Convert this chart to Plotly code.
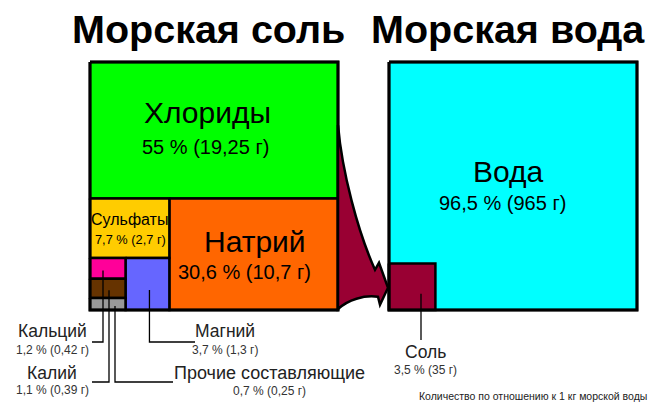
import math
import plotly.graph_objects as go

# ---------------- data ----------------
salt_parts = ["Хлориды", "Натрий", "Сульфаты", "Магний", "Кальций", "Калий", "Прочие составляющие"]
salt_percent = [55, 30.6, 7.7, 3.7, 1.2, 1.1, 0.7]
salt_grams = ["19,25", "10,7", "2,7", "1,3", "0,42", "0,39", "0,25"]
salt_colors = ["#00ff00", "#ff6600", "#ffcc00", "#6666ff", "#ff0099", "#663300", "#999999"]

water_parts = ["Вода", "Соль"]
water_percent = [96.5, 3.5]
water_grams = ["965", "35"]
water_colors = ["#00ffff", "#990033"]

titles = ["Морская соль", "Морская вода"]
note = "Количество по отношению к 1 кг морской воды"

FONT = "Liberation Sans"
OFF = 8  # page body margin compensation


def pct(p):
    s = ("%g" % p).replace(".", ",")
    return s + " %"


# ---------------- layout geometry (treemap-like split) ----------------
S = 248.0
LX0, LY0 = 90.0, 62.0
RX0, RY0 = 389.0, 62.0
LX1, LY1 = LX0 + S, LY0 + S
RX1, RY1 = RX0 + S, RY0 + S

p = dict(zip(salt_parts, salt_percent))
rects = {}
ych = LY0 + S * p["Хлориды"] / 100.0
rects["Хлориды"] = (LX0, LY0, LX1, ych)
rest = 100.0 - p["Хлориды"]
na_w = S * p["Натрий"] / rest
rects["Натрий"] = (LX1 - na_w, ych, LX1, LY1)
colx1 = LX1 - na_w
col_rest = rest - p["Натрий"]
ysu = ych + (LY1 - ych) * p["Сульфаты"] / col_rest
rects["Сульфаты"] = (LX0, ych, colx1, ysu)
low_rest = col_rest - p["Сульфаты"]
mg_w = (colx1 - LX0) * p["Магний"] / low_rest
rects["Магний"] = (colx1 - mg_w, ysu, colx1, LY1)
smx1 = colx1 - mg_w
small_rest = low_rest - p["Магний"]
y = ysu
for nm in ["Кальций", "Калий", "Прочие составляющие"]:
    h = (LY1 - ysu) * p[nm] / small_rest
    rects[nm] = (LX0, y, smx1, y + h)
    y += h

side = S * math.sqrt(water_percent[1] / 100.0)
wrects = {
    "Вода": (RX0, RY0, RX1, RY1),
    "Соль": (RX0, RY1 - side, RX0 + side, RY1),
}

fig = go.Figure()


def add_rect(r, color, lw=2.5):
    x0, y0, x1, y1 = r
    fig.add_trace(go.Scatter(
        x=[x0, x1, x1, x0, x0], y=[y0, y0, y1, y1, y0],
        mode="lines", fill="toself", fillcolor=color,
        line=dict(color="black", width=lw), hoverinfo="skip", showlegend=False))


for nm, c in zip(salt_parts, salt_colors):
    add_rect(rects[nm], c)
for nm, c in zip(water_parts, water_colors):
    add_rect(wrects[nm], c)

# outer borders
for (x0, y0, x1, y1) in [(LX0, LY0, LX1, LY1), (RX0, RY0, RX1, RY1)]:
    fig.add_trace(go.Scatter(x=[x0, x1, x1, x0, x0], y=[y0, y0, y1, y1, y0],
                             mode="lines", line=dict(color="black", width=3),
                             hoverinfo="skip", showlegend=False))

# arrow from salt box to salt square in water
sq = wrects["Соль"]
ty = (sq[1] + sq[3]) / 2 + 1
arrow_path = (
    f"M {LX1},{LY0+63} C {LX1+4},{LY0+110} {LX1+20},{LY0+170} {RX0-14},{ty-18} "
    f"L {RX0-10},{ty-25} L {RX0-1},{ty} L {RX0-9},{ty+17} L {RX0-11},{ty+9} "
    f"C {RX0-25},{ty+7} {LX1+10},{ty+12} {LX1},{LY1-1} Z"
)
fig.add_shape(type="path", path=arrow_path, fillcolor="#990033",
              line=dict(color="black", width=2.5), xref="x", yref="y", layer="above")
fig.add_shape(type="line", x0=RX0, x1=RX0, y0=sq[1], y1=sq[3],
              line=dict(color="black", width=2.5), xref="x", yref="y")


def cx(r):
    return (r[0] + r[2]) / 2


def leader(pts):
    fig.add_trace(go.Scatter(x=[a for a, b in pts], y=[b for a, b in pts], mode="lines",
                             line=dict(color="black", width=1.3), hoverinfo="skip",
                             showlegend=False))


r = rects["Кальций"]
leader([(103, (r[1] + r[3]) / 2 + 2), (103, 342), (92, 342)])
r = rects["Калий"]
leader([(109, (r[1] + r[3]) / 2 + 2), (109, 382), (92, 382)])
r = rects["Прочие составляющие"]
leader([(115, (r[1] + r[3]) / 2 + 2), (115, 382), (173, 382)])
r = rects["Магний"]
leader([(cx(r) + 2, (r[1] + r[3]) / 2 + 6), (cx(r) + 2, 342), (195, 342)])
leader([(421, (sq[1] + sq[3]) / 2 + 7), (421, 340)])


def txt(x, y, s, size, color="black", bold=False, anchor="center"):
    fig.add_annotation(x=x, y=y, text=("<b>%s</b>" % s) if bold else s, showarrow=False,
                       xref="x", yref="y", xanchor=anchor, yanchor="middle",
                       font=dict(family=FONT, size=size, color=color))


txt((LX0 + LX1) / 2 - 6, 29, titles[0], 39.5, bold=True)
txt((RX0 + RX1) / 2 - 5, 29, titles[1], 39.5, bold=True)


def big(nm, rr, dx1, dy1, dx2, dy2, s1, s2, gr, perc, parts):
    i = parts.index(nm)
    txt(cx(rr) + dx1, (rr[1] + rr[3]) / 2 + dy1, nm, s1)
    txt(cx(rr) + dx2, (rr[1] + rr[3]) / 2 + dy2, "%s (%s г)" % (pct(perc[i]), gr[i]), s2)


big("Хлориды", rects["Хлориды"], -7, -18, -9, 17, 30, 20, salt_grams, salt_percent, salt_parts)
big("Натрий", rects["Натрий"], 1, -13, -9, 18, 30, 20, salt_grams, salt_percent, salt_parts)
big("Сульфаты", rects["Сульфаты"], 0, -9, 1, 11, 16, 12.8, salt_grams, salt_percent, salt_parts)
big("Вода", (RX0, RY0, RX1, RY1 - 10), -5, -10, -11, 22, 30, 20, water_grams, water_percent, water_parts)


def outside(nm, x, y1, y2, parts, perc, gr, s1=17.5):
    i = parts.index(nm)
    txt(x, y1, nm, s1, color="#222222")
    txt(x, y2, "%s (%s г)" % (pct(perc[i]), gr[i]), 12, color="#333333")


outside("Кальций", 52, 331, 350, salt_parts, salt_percent, salt_grams)
outside("Калий", 52, 373, 390, salt_parts, salt_percent, salt_grams)
outside("Магний", 225, 331, 350, salt_parts, salt_percent, salt_grams)
outside("Прочие составляющие", 269, 373, 391, salt_parts, salt_percent, salt_grams, 18)
outside("Соль", 425, 352, 370, water_parts, water_percent, water_grams)

txt(533, 396, note, 10.5, color="#222222")

fig.update_layout(
    width=660, height=412, margin=dict(l=0, r=0, t=0, b=0),
    paper_bgcolor="white", plot_bgcolor="white",
    xaxis=dict(range=[OFF, 660 + OFF], visible=False, fixedrange=True),
    yaxis=dict(range=[412 + OFF, OFF], visible=False, fixedrange=True),
    showlegend=False,
)
fig.write_html("out.html")
